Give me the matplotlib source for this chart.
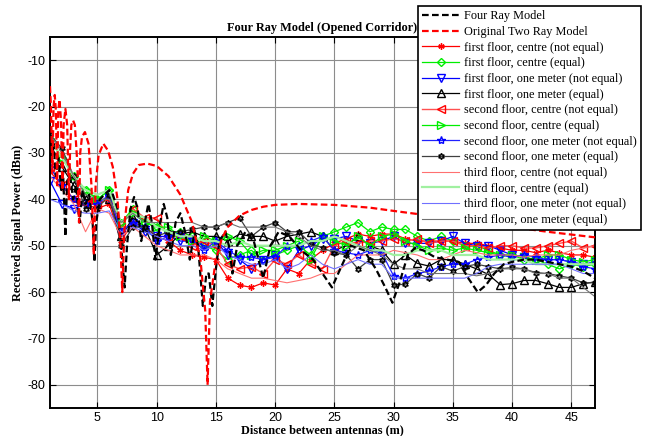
import matplotlib
matplotlib.use("Agg")
import matplotlib.pyplot as plt

# distances of the measurement points (m)
dist = list(range(1, 48))

# measured received power (dBm)
f1_centre_ne = [-34, -37, -40, -41, -42, -41, -49, -45, -46, -48,
                -49, -51, -52, -52.5, -53, -57, -58.5, -59, -58, -58.5,
                -55, -56, -53, -51, -49.5, -48.5, -47.5, -48, -47.5, -47.5,
                -48.5, -49, -49, -49, -49, -49.5, -49.5, -50, -50.5, -51,
                -51, -51.5, -51, -51.5, -52, -52, -52.5]
f1_centre_eq = [-27, -31, -35, -38, -40, -38, -45, -42, -45, -46,
                -47, -47, -48, -50, -51, -53, -52, -51, -53, -52,
                -51, -50, -52, -48, -47, -46, -45, -47, -46, -46.5,
                -46.5, -48, -49, -48, -49, -50, -50, -51, -52, -52,
                -53, -53, -54, -55, -54, -54.5, -54]
f1_onem_ne = [-36, -41, -42, -41, -41, -40, -47, -45, -47, -48,
              -48, -49, -49, -50, -49, -52, -53, -55, -53, -52,
              -55, -51, -50, -48.5, -48.5, -48, -49, -49.5, -49, -48,
              -49.5, -49.5, -49.5, -49, -48, -49.5, -50, -50, -51, -52,
              -52.5, -53, -53, -53, -53.5, -54, -53.5]
f1_onem_eq = [-28, -33, -37, -40, -41, -40, -48, -44, -46, -52,
              -50, -47.5, -47, -48, -48, -49, -47.5, -48, -48, -49,
              -48, -47.5, -47, -48, -51, -50, -48, -50, -51, -54,
              -52, -53.8, -54.4, -53, -53, -54, -55, -56.2, -58.4, -58.2,
              -57.5, -57.5, -58.2, -59, -59, -58.2, -57.8]
s_centre_ne = [-33, -37, -40, -41, -41, -40, -46, -42, -44, -44,
               -48, -48, -50, -49, -50, -54, -55, -54.5, -56, -53,
               -54, -52, -54, -55, -50, -49, -49.5, -49, -49, -48.5,
               -49, -48.5, -49.5, -49, -49, -50, -50, -50.5, -50, -50,
               -50.5, -50.5, -50, -49.5, -49, -50.5, -50]
s_centre_eq = [-27, -31, -35, -38, -40, -38, -45, -43, -45, -46,
               -46, -48, -49, -48, -49, -48, -49, -52, -51, -51,
               -50, -49, -53, -48, -49, -50, -48, -50, -48, -47.5,
               -49, -50, -51, -50.5, -51, -50.5, -51, -51.5, -52, -52,
               -52.5, -53, -52, -52, -53, -53.5, -53]
s_onem_ne = [-33, -37, -40, -41, -41, -39, -47, -45, -46, -49,
             -48, -47.5, -48.5, -51, -49, -51, -52.5, -52.5, -53, -52.5,
             -50, -50, -49, -48, -51, -51.5, -52, -51, -51.5, -56.5,
             -57, -56, -55.5, -54.5, -54, -54, -53, -52.5, -52, -52.5,
             -52, -52.5, -53, -53, -53.5, -54.5, -55]
s_onem_eq = [-26, -29, -35, -42, -42, -39, -50, -46, -46, -48,
             -47, -47, -46.5, -46, -46, -45, -44, -48, -46, -45,
             -47, -47, -49.5, -50.5, -51.5, -52, -55, -53, -53, -58.5,
             -58.3, -56, -57, -54.5, -55.5, -54.5, -54, -54.5, -55, -54.7,
             -55, -55.8, -56, -56.5, -57, -58, -58]
t_centre_ne = [-35, -38, -41, -47, -42, -43, -48, -46, -48, -50,
               -51, -52, -52, -52, -53, -55, -56, -57, -57, -57.5,
               -58, -57.5, -57, -56, -56, -54, -52, -52, -52, -51,
               -51.5, -52, -53, -53, -52, -51, -51.5, -52, -52, -52,
               -52.5, -52, -52, -52, -51, -50.5, -50]
t_centre_eq = [-27, -31, -35, -38, -39, -38, -45, -43, -44, -46,
               -47, -48, -48, -49, -49, -50, -49, -50, -50, -50,
               -50, -50, -49, -49, -48, -49, -50, -51, -51, -52,
               -52, -51, -51, -51, -52, -52, -52, -53, -53, -53,
               -53, -54, -54, -54, -54, -54, -54]
t_onem_ne = [-40, -41, -42.5, -43, -43, -42.5, -47, -46, -47, -48,
             -49, -50, -50, -51, -50, -52, -53, -54, -54, -53,
             -55, -54, -52, -54, -55, -54, -53, -54, -54, -57,
             -57, -57, -57, -57, -57, -57, -56, -54.5, -54, -54,
             -54, -54, -54, -54, -55, -56, -56]
t_onem_eq = [-26, -30, -35, -39, -40, -40, -45, -43, -45, -45,
             -45, -45, -45, -46, -46, -45, -46, -46, -46, -46,
             -47, -48, -50, -51, -51, -52, -50, -51, -52, -54,
             -55, -55, -56, -56, -56, -56, -56.5, -56, -55, -55,
             -55, -56, -56, -57, -57, -59, -61]

# model curves
four_x = [1.0, 1.15, 1.3, 1.5, 1.7, 1.95, 2.1, 2.3, 2.45, 2.7, 2.95, 3.2, 3.5,
          3.75, 4.0, 4.3, 4.6, 4.75, 4.9, 5.2, 5.6, 6.0, 6.3, 6.7, 7.0, 7.3,
          7.5, 7.8, 8.1, 8.4, 8.7, 9.0, 9.3, 9.6, 9.9, 10.3, 10.6, 10.9, 11.2,
          11.6, 12.0, 12.4, 12.8, 13.2, 13.5, 13.9, 14.2, 14.4, 14.7, 15.0,
          15.3, 15.8, 16.1, 16.4, 16.8, 17.5, 18.2, 19.0, 19.6, 20.3, 21.2,
          22.2, 23.2, 24.0, 24.8, 25.5, 26.4, 27.5, 28.5, 29.3, 29.9, 30.5,
          31.2, 31.8, 32.5, 33.5, 34.5, 35.5, 36.3, 37.1, 37.8, 38.5, 39.3,
          40.0, 41.0, 42.0, 43.0, 44.0, 45.0, 46.0, 47.0]
four_y = [-25, -32, -28, -35, -31, -38, -34, -48, -36, -35, -40, -37, -45,
          -38, -41, -39, -45, -53.5, -45, -40, -39, -38, -39, -42, -50, -59,
          -50, -42, -39.5, -42, -49, -45, -41, -45, -53, -45, -41, -44, -52,
          -45, -43, -47, -53, -47, -50, -63, -56, -56, -63, -55,
          -49, -47, -50, -56, -50, -47, -49, -57, -50, -47, -48,
          -51, -53, -56, -59, -55, -50, -51, -55, -59, -62.3, -58,
          -52, -50.5, -51, -52.5, -53, -53.5, -57, -60, -58.5, -56, -54,
          -53.5, -53, -53, -53.5, -54, -54.5, -55.5, -57]

two_x = [1.0, 1.08, 1.2, 1.3, 1.4, 1.5, 1.6, 1.7, 1.8, 1.93, 2.05, 2.15, 2.3,
         2.45, 2.6, 2.7, 2.8, 2.95, 3.1, 3.3, 3.45, 3.55, 3.7, 3.95, 4.25,
         4.5, 4.7, 4.85, 5.1, 5.5, 5.9, 6.3, 6.7, 6.95, 7.1, 7.3, 7.6, 8.0,
         8.5, 9.2, 10.0, 11.0, 12.0, 13.0, 13.7, 14.1, 14.3, 14.5, 15.0,
         15.5, 16.0, 17.0, 18.0, 19.0, 20.0, 22.0, 25.0, 28.0, 30.0, 33.0,
         35.0, 38.0, 40.0, 43.0, 45.0, 47.0]
two_y = [-15.6, -20, -34, -20, -17.5, -21, -37, -21, -18.5, -23, -38, -24,
         -20.5, -24, -40, -29, -24, -23, -24, -32, -45, -30, -26.5, -25.5,
         -28, -37, -52, -37, -30.5, -28, -29.5, -33, -40, -50, -60, -45,
         -38, -34.5, -32.6, -32.3, -32.8, -35, -39, -45, -53, -64, -80, -62,
         -53, -48.5, -46, -43.5, -42.3, -41.6, -41.2, -41, -41.2, -41.8,
         -42.5, -43.5, -44, -45.3, -46, -47, -47.6, -48.2]

plt.rcParams["font.family"] = "Liberation Sans"
plt.rcParams["axes.unicode_minus"] = False
fig = plt.figure(figsize=(6.47, 4.36), dpi=100)
ax = fig.add_axes([50 / 647, 28 / 436, 545 / 647, 371 / 436])

serif = "Liberation Serif"
ms = 4.5

h = []
h += ax.plot(four_x, four_y, "--", color="black", lw=1.6, dashes=(3, 1.5), zorder=4,
             label="Four Ray Model")
h += ax.plot(two_x, two_y, "--", color="#ff0000", lw=1.6, dashes=(3, 1.5), zorder=4,
             label="Original Two Ray Model")
h += ax.plot(dist, f1_centre_ne, color="#ff0000", lw=0.9, marker=(6, 2, 0), ms=ms,
             label="first floor, centre (not equal)")
h += ax.plot(dist, f1_centre_eq, color="#00ee00", lw=0.9, marker="D", ms=ms - 0.5,
             mfc="none", label="first floor, centre (equal)")
h += ax.plot(dist, f1_onem_ne, color="#0000ff", lw=0.9, marker="v", ms=ms + 1,
             mfc="none", label="first floor, one meter (not equal)")
h += ax.plot(dist, f1_onem_eq, color="black", lw=0.9, marker="^", ms=ms + 1,
             mfc="none", label="first floor, one meter (equal)")
h += ax.plot(dist, s_centre_ne, color="#ff5050", lw=1.0, marker="<", ms=ms + 1,
             mfc="none", mec="#ff0000", label="second floor, centre (not equal)")
h += ax.plot(dist, s_centre_eq, color="#00ee00", lw=0.9, marker=">", ms=ms + 1,
             mfc="none", label="second floor, centre (equal)")
h += ax.plot(dist, s_onem_ne, color="#2020ff", lw=0.9, marker="*", ms=ms + 1.5,
             mfc="none", mec="#0000ff", label="second floor, one meter (not equal)")
h += ax.plot(dist, s_onem_eq, color="#404040", lw=0.9, marker=(6, 1, 0), ms=ms,
             mfc="none", mec="black", label="second floor, one meter (equal)")
h += ax.plot(dist, t_centre_ne, color="#ff7070", lw=0.8,
             label="third floor, centre (not equal)")
h += ax.plot(dist, t_centre_eq, color="#a0f0a0", lw=1.6,
             label="third floor, centre (equal)")
h += ax.plot(dist, t_onem_ne, color="#7070ff", lw=0.8,
             label="third floor, one meter (not equal)")
h += ax.plot(dist, t_onem_eq, color="#707070", lw=0.8,
             label="third floor, one meter (equal)")

ax.set_xlim(1, 47)
ax.set_ylim(-85, -5)
ax.set_xticks([5, 10, 15, 20, 25, 30, 35, 40, 45])
ax.set_yticks([-10, -20, -30, -40, -50, -60, -70, -80])
ax.grid(True, color="#8c8c8c", lw=0.8)
ax.set_axisbelow(True)
ax.tick_params(direction="in", top=True, right=True, labelsize=9, length=4, pad=3)
for s in ax.spines.values():
    s.set_linewidth(1.4)

ax.set_title("Four Ray Model (Opened Corridor)", fontfamily=serif,
             fontweight="bold", fontsize=8.8, pad=4)
ax.set_xlabel("Distance between antennas (m)", fontfamily=serif,
              fontweight="bold", fontsize=8.8, labelpad=0)
ax.set_ylabel("Received Signal Power (dBm)", fontfamily=serif,
              fontweight="bold", fontsize=8.8, labelpad=3)

leg = ax.legend(handles=h, loc="upper left", bbox_to_anchor=(418 / 647, 1 - 6 / 436),
                bbox_transform=fig.transFigure, borderaxespad=0,
                prop={"family": serif, "size": 8.8}, fancybox=False,
                framealpha=1, edgecolor="black", handlelength=3.0,
                handletextpad=0.4, labelspacing=0.3, borderpad=0.35)
leg.get_frame().set_linewidth(1.2)
leg.set_zorder(10)

fig.savefig("out.png", dpi=100)
